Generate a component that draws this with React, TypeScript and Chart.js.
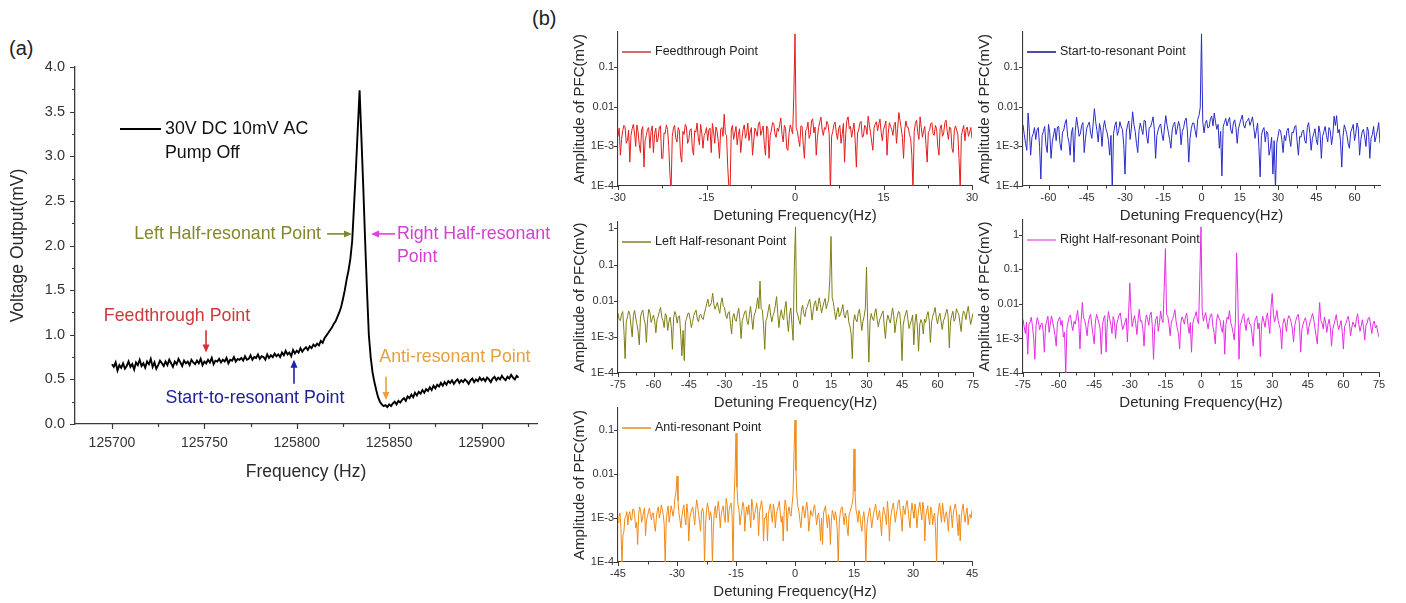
import React, { useEffect, useRef } from 'react';
import { Chart, registerables } from 'chart.js';
Chart.register(...registerables);

const FONT = 'Arial, "Liberation Sans", Helvetica, sans-serif';

// ---------------- Panel (a) data ----------------
const FREQ_START = 125700;
const FREQ_STEP = 1;
// Voltage output (mV), one value per Hz from 125700 to 125920
const VOLTAGE = [
  0.67, 0.64, 0.69, 0.60, 0.66, 0.63, 0.68, 0.62, 0.65, 0.70,
  0.64, 0.67, 0.61, 0.69, 0.66, 0.72, 0.65, 0.68, 0.63, 0.70,
  0.67, 0.73, 0.64, 0.69, 0.62, 0.66, 0.71, 0.68, 0.65, 0.70,
  0.66, 0.72, 0.68, 0.64, 0.70, 0.67, 0.73, 0.69, 0.65, 0.71,
  0.68, 0.70, 0.66, 0.72, 0.69, 0.67, 0.71, 0.68, 0.73, 0.66,
  0.70, 0.68, 0.72, 0.69, 0.74, 0.67, 0.71, 0.70, 0.73, 0.69,
  0.72, 0.70, 0.74, 0.68, 0.72, 0.71, 0.75, 0.70, 0.73, 0.72,
  0.74, 0.71, 0.76, 0.72, 0.73, 0.77, 0.72, 0.75, 0.74, 0.78,
  0.73, 0.76, 0.75, 0.72, 0.78, 0.74, 0.77, 0.75, 0.79, 0.76,
  0.78, 0.75, 0.80, 0.77, 0.82, 0.78, 0.80, 0.76, 0.83, 0.79,
  0.82, 0.80, 0.85, 0.81, 0.84, 0.86, 0.83, 0.87, 0.85, 0.89,
  0.87, 0.90, 0.88, 0.93, 0.91, 0.96, 0.99, 1.02, 1.05, 1.08,
  1.12, 1.15, 1.20, 1.25, 1.31, 1.40, 1.50, 1.62, 1.72, 1.85,
  2.05, 2.45, 2.85, 3.30, 3.74, 3.20, 2.65, 2.05, 1.50, 1.00,
  0.75, 0.58, 0.47, 0.38, 0.30, 0.25, 0.22, 0.20, 0.21, 0.19,
  0.22, 0.20, 0.23, 0.25, 0.22, 0.26, 0.24, 0.27, 0.29, 0.26,
  0.31, 0.29, 0.33, 0.30, 0.35, 0.32, 0.36, 0.34, 0.38, 0.35,
  0.39, 0.37, 0.41, 0.38, 0.43, 0.40, 0.44, 0.42, 0.46, 0.43,
  0.47, 0.44, 0.48, 0.46, 0.49, 0.45, 0.48, 0.50, 0.46, 0.49,
  0.47, 0.50, 0.48, 0.45, 0.49, 0.51, 0.47, 0.50, 0.48, 0.52,
  0.49, 0.51, 0.48, 0.52, 0.50, 0.47, 0.51, 0.53, 0.49, 0.52,
  0.50, 0.54, 0.51, 0.49, 0.53, 0.51, 0.55, 0.52, 0.50, 0.54,
  0.52,
];
const A_X_MIN = 125680;
const A_X_MAX = 125930;
const A_X_TICKS = [125700, 125750, 125800, 125850, 125900];
const A_X_MINOR = [125725, 125775, 125825, 125875, 125925];
const A_Y_TICKS = [0, 0.5, 1.0, 1.5, 2.0, 2.5, 3.0, 3.5, 4.0];
const A_Y_MINOR = [0.25, 0.75, 1.25, 1.75, 2.25, 2.75, 3.25, 3.75];

// annotation labels (data coordinates: Hz, mV)
const A_LABELS = [
  { text: 'Left Half-resonant Point', f: 125813.1, v: 2.13, color: '#86862c', align: 'right' },
  { text: 'Right Half-resonant', f: 125854.2, v: 2.13, color: '#d43ed4', align: 'left' },
  { text: 'Point', f: 125854.2, v: 1.87, color: '#d43ed4', align: 'left' },
  { text: 'Feedthrough Point', f: 125735.2, v: 1.21, color: '#cc3a3a', align: 'center' },
  { text: 'Start-to-resonant Point', f: 125777.4, v: 0.29, color: '#20209a', align: 'center' },
  { text: 'Anti-resonant Point', f: 125885.6, v: 0.75, color: '#e6a040', align: 'center' },
];
const A_ARROWS = [
  { f1: 125816.4, v1: 2.13, f2: 125829.9, v2: 2.13, color: '#7d8a2a' },
  { f1: 125853.2, v1: 2.13, f2: 125840.2, v2: 2.13, color: '#e040e0' },
  { f1: 125750.9, v1: 1.05, f2: 125750.9, v2: 0.8, color: '#d43030' },
  { f1: 125798.5, v1: 0.45, f2: 125798.5, v2: 0.72, color: '#2020b0' },
  { f1: 125848.3, v1: 0.53, f2: 125848.3, v2: 0.27, color: '#e8a040' },
];

// ---------------- Panel (b) data (amplitudes in µV; axis in mV) ----------------
const FEED_START = -30;
const FEED_STEP = 0.2;
const FEED_UV = [
  1.8, 2.9, 0.6, 1.5, 2.5, 3.4, 3.1, 1.2, 1.4, 2.6,
  0.4, 1.9, 2.8, 3.6, 2.2, 1.0, 3.5, 2.4, 1.1, 0.7,
  2.6, 3.2, 0.3, 1.4, 1.9, 2.7, 3.0, 0.9, 2.4, 3.3,
  0.7, 2.0, 2.9, 1.3, 1.6, 3.1, 3.3, 0.5, 0.5, 2.2,
  2.1, 3.5, 2.7, 1.0, 0.2, 0.08, 1.8, 2.9, 3.4, 1.6,
  1.3, 3.0, 2.5, 0.6, 0.4, 2.4, 2.0, 3.6, 3.1, 1.2,
  1.5, 2.6, 2.8, 0.9, 0.6, 2.5, 2.3, 3.9, 1.7, 1.1,
  3.6, 2.2, 0.9, 1.9, 2.2, 3.0, 1.4, 2.6, 2.9, 0.7,
  3.8, 2.3, 1.2, 3.1, 2.4, 1.3, 0.5, 2.7, 3.0, 1.8,
  6.5, 2.1, 1.9, 0.3, 0.09, 0.08, 2.6, 3.4, 1.5, 2.2,
  3.2, 1.1, 2.0, 2.8, 0.7, 1.5, 2.7, 3.5, 1.6, 2.1,
  3.9, 1.4, 2.3, 3.0, 0.6, 1.3, 2.9, 2.4, 1.8, 3.7,
  4.2, 1.9, 2.5, 3.3, 1.1, 0.6, 3.3, 2.8, 0.5, 1.9,
  2.6, 4.0, 3.8, 2.1, 1.7, 2.9, 2.4, 3.6, 5.2, 2.0,
  1.3, 3.4, 2.9, 0.9, 0.8, 2.2, 3.5, 2.7, 2.1, 20,
  700, 3.0, 2.4, 1.5, 1.0, 3.3, 3.2, 1.1, 0.5, 2.5,
  2.8, 4.1, 1.6, 2.0, 4.4, 5.0, 2.2, 3.1, 0.6, 1.7,
  3.0, 4.2, 5.5, 2.6, 1.9, 3.0, 2.7, 4.3, 3.6, 2.0,
  0.07, 1.8, 2.4, 3.6, 4.1, 2.2, 1.5, 2.8, 3.4, 1.2,
  2.0, 3.8, 0.4, 2.1, 4.6, 5.6, 2.8, 3.2, 1.7, 2.6,
  3.9, 1.4, 0.3, 2.2, 2.6, 3.9, 4.3, 1.7, 1.8, 3.4,
  3.1, 2.0, 5.8, 3.5, 2.2, 1.3, 0.8, 2.9, 3.7, 4.2,
  2.5, 3.6, 4.9, 2.3, 1.4, 2.7, 3.3, 4.4, 0.6, 2.1,
  4.0, 3.2, 2.7, 1.9, 3.5, 4.1, 1.2, 2.8, 7.2, 4.5,
  2.9, 1.7, 0.5, 2.6, 4.4, 3.1, 3.0, 2.0, 1.6, 0.6,
  0.08, 2.4, 3.8, 4.6, 2.3, 1.5, 5.6, 3.0, 1.7, 2.5,
  3.2, 1.1, 0.4, 2.3, 2.5, 3.7, 4.0, 2.1, 1.9, 3.4,
  2.8, 1.0, 0.6, 2.9, 3.5, 1.8, 2.2, 4.0, 4.6, 2.4,
  1.5, 3.1, 2.9, 0.9, 0.7, 2.5, 3.3, 2.6, 2.0, 0.5,
  0.08, 1.9, 2.6, 3.4, 1.4, 2.7, 3.1, 1.8, 2.3, 3.0,
  1.6,
];

const START_START = -70;
const START_STEP = 0.5;
const START_UV = [
  3.5, 2.0, 1.2, 0.8, 7.0, 2.4, 0.6, 1.7, 2.1, 3.0,
  1.5, 2.6, 3.0, 1.0, 0.15, 1.9, 2.4, 3.2, 1.1, 0.7,
  3.6, 2.2, 0.5, 1.3, 2.0, 2.9, 1.4, 3.1, 3.2, 1.2,
  0.8, 2.3, 2.6, 3.9, 4.8, 1.8, 1.3, 0.6, 2.2, 3.0,
  0.4, 2.4, 5.5, 3.3, 1.8, 2.1, 3.4, 4.0, 0.7, 1.6,
  2.9, 3.5, 4.1, 2.2, 1.6, 3.7, 9.0, 4.2, 2.5, 1.3,
  3.8, 2.6, 1.0, 3.0, 4.5, 2.8, 2.2, 1.4, 0.6, 1.9,
  0.08, 2.1, 3.3, 4.2, 1.9, 2.5, 4.2, 3.1, 2.7, 1.1,
  0.2, 2.3, 3.5, 4.4, 1.5, 2.9, 7.5, 3.6, 2.4, 1.2,
  0.7, 2.5, 3.9, 2.8, 2.0, 4.6, 4.4, 1.8, 1.2, 3.0,
  3.1, 4.0, 5.6, 2.7, 0.5, 1.9, 2.6, 3.3, 3.7, 2.0,
  1.4, 3.1, 6.0, 3.4, 2.3, 1.5, 0.9, 2.6, 3.6, 4.1,
  2.0, 2.8, 4.3, 3.2, 1.1, 2.4, 3.0, 4.5, 5.2, 2.3,
  0.4, 1.6, 2.8, 3.9, 3.9, 2.5, 1.7, 4.8, 6.0, 9.5,
  700, 4.2, 2.2, 3.8, 4.6, 2.9, 3.1, 5.0, 5.8, 3.3,
  7.0, 4.1, 2.7, 3.6, 0.9, 2.4, 0.18, 3.2, 4.0, 5.1,
  3.3, 4.4, 5.4, 2.6, 2.1, 3.9, 4.7, 3.0, 1.2, 2.8,
  3.8, 4.9, 6.2, 3.5, 2.9, 4.1, 4.5, 5.2, 3.4, 4.3,
  5.6, 3.0, 1.6, 2.5, 3.9, 1.0, 0.17, 1.9, 2.6, 3.0,
  1.3, 2.4, 2.2, 0.6, 0.9, 1.7, 0.2, 1.4, 0.08, 1.2,
  1.8, 2.7, 2.5, 1.5, 0.7, 1.9, 1.4, 2.5, 2.9, 1.6,
  1.0, 2.3, 2.2, 3.1, 3.4, 1.3, 0.6, 1.8, 1.7, 2.4,
  2.6, 1.4, 1.2, 3.0, 4.0, 2.1, 0.8, 1.6, 2.1, 2.8,
  1.5, 1.1, 3.3, 2.2, 0.5, 1.8, 2.4, 3.2, 1.9, 1.3,
  3.0, 2.5, 1.1, 1.9, 5.8, 3.4, 6.0, 2.2, 2.7, 1.4,
  0.3, 1.8, 3.5, 2.7, 2.0, 1.2, 0.9, 2.3, 2.8, 3.6,
  1.4, 2.1, 3.9, 2.9, 0.6, 1.5, 2.3, 2.7, 1.7, 1.0,
  3.1, 2.4, 0.5, 1.6, 2.0, 3.2, 1.3, 1.8, 2.6, 4.0,
  1.2,
];

const LEFT_START = -75;
const LEFT_STEP = 0.5;
const LEFT_UV = [
  4.5, 3.0, 2.8, 4.2, 5.0, 1.5, 0.25, 2.6, 3.6, 5.2,
  4.2, 2.0, 1.0, 3.9, 5.4, 3.3, 2.2, 1.4, 0.6, 3.5,
  4.8, 5.5, 3.1, 2.3, 0.7, 3.0, 5.8, 4.6, 2.5, 3.2,
  4.0, 2.7, 1.3, 3.0, 3.7, 5.1, 6.5, 3.4, 2.8, 1.8,
  4.4, 3.8, 1.5, 2.6, 3.5, 1.9, 0.45, 3.3, 5.0, 4.1,
  2.4, 3.6, 3.8, 1.2, 0.3, 1.5, 0.22, 2.6, 3.2, 4.4,
  4.6, 3.0, 1.8, 2.5, 3.9, 4.8, 5.5, 3.1, 2.6, 4.0,
  4.2, 3.3, 3.0, 4.5, 6.0, 8.5, 11.0, 6.8, 7.5, 9.0,
  16.0, 8.0, 5.8, 7.2, 9.0, 6.0, 4.5, 8.8, 12.0, 7.0,
  6.5, 4.0, 3.2, 4.6, 5.0, 2.4, 1.2, 3.5, 4.4, 2.9,
  2.7, 4.5, 6.2, 3.0, 0.9, 2.8, 3.6, 4.9, 5.3, 2.7,
  2.2, 4.1, 7.0, 3.2, 1.6, 3.8, 4.8, 6.6, 12.0, 6.0,
  35, 6.0, 5.5, 2.0, 0.45, 2.8, 3.4, 5.5, 8.0, 4.0,
  2.6, 3.9, 4.9, 7.5, 13.0, 4.4, 1.8, 3.8, 5.6, 3.5,
  3.0, 6.2, 9.5, 3.0, 1.4, 4.0, 6.3, 2.2, 0.8, 90,
  1100, 5.0, 4.0, 2.8, 2.2, 5.5, 7.5, 4.4, 3.6, 5.8,
  6.8, 9.0, 11.0, 6.0, 2.9, 5.5, 8.5, 10.0, 5.2, 7.0,
  12.0, 8.0, 4.6, 6.5, 9.0, 11.5, 6.0, 8.2, 10.5, 40,
  600, 12.0, 9.0, 5.0, 3.0, 4.8, 6.5, 3.6, 4.2, 5.6,
  7.8, 4.0, 3.3, 4.9, 5.5, 2.6, 2.0, 1.2, 0.25, 2.5,
  4.1, 3.0, 2.6, 4.5, 5.8, 3.2, 1.5, 2.7, 3.7, 6.0,
  85, 2.5, 0.2, 2.8, 4.4, 3.3, 2.8, 4.6, 6.0, 3.0,
  1.9, 2.9, 3.5, 4.4, 5.2, 2.0, 0.9, 2.6, 4.0, 3.1,
  2.4, 3.7, 6.3, 4.0, 1.3, 2.4, 3.6, 5.0, 4.8, 2.0,
  0.22, 2.1, 3.2, 4.4, 5.5, 3.0, 1.7, 2.3, 2.9, 4.0,
  0.6, 2.5, 4.3, 1.9, 0.4, 2.2, 3.0, 2.4, 1.2, 3.1,
  2.5, 3.8, 5.0, 2.9, 0.7, 2.6, 3.8, 4.7, 6.5, 3.4,
  2.3, 3.5, 4.5, 2.7, 1.6, 2.8, 3.3, 4.6, 5.8, 3.7,
  0.5, 2.6, 3.9, 5.1, 2.7, 3.2, 6.0, 4.8, 4.2, 2.4,
  1.4, 3.6, 5.2, 4.4, 3.0, 4.9, 7.0, 3.8, 2.2, 3.1,
  4.5,
];

const RIGHT_START = -75;
const RIGHT_STEP = 0.5;
const RIGHT_UV = [
  3.5, 2.2, 1.4, 3.0, 0.35, 2.6, 3.0, 4.1, 2.2, 1.0,
  0.25, 2.4, 4.0, 3.1, 1.8, 2.5, 2.8, 1.6, 0.4, 2.3,
  3.2, 4.4, 1.5, 2.6, 4.5, 3.0, 2.0, 1.2, 0.6, 2.8,
  3.6, 4.2, 2.4, 3.3, 1.1, 1.5, 0.1, 2.0, 3.0, 4.3,
  4.8, 2.5, 1.7, 3.1, 2.6, 4.0, 6.5, 2.9, 0.5, 3.4,
  11.0, 4.0, 3.4, 2.2, 1.2, 2.8, 4.2, 5.0, 2.3, 1.3,
  0.7, 3.0, 5.0, 3.7, 2.8, 1.9, 0.35, 2.4, 3.9, 4.6,
  0.4, 2.7, 6.0, 3.8, 2.5, 1.4, 4.3, 3.2, 1.0, 2.6,
  3.6, 4.8, 5.5, 2.9, 1.8, 2.3, 3.0, 3.9, 0.8, 5.5,
  40, 6.0, 2.2, 3.3, 4.6, 2.7, 1.3, 3.5, 7.0, 3.1,
  3.3, 1.9, 0.6, 2.8, 4.8, 3.6, 2.4, 4.9, 5.8, 2.2,
  0.25, 2.1, 3.7, 4.4, 1.6, 2.9, 6.2, 3.5, 2.9, 30,
  400, 5.0, 4.4, 2.6, 1.2, 3.0, 3.5, 4.7, 6.8, 3.1,
  2.0, 1.4, 0.5, 2.8, 4.2, 3.5, 2.6, 4.4, 5.4, 2.5,
  1.4, 2.9, 0.4, 2.6, 3.8, 4.5, 6.0, 3.2, 2.7, 60,
  1700, 6.5, 3.2, 4.4, 5.6, 2.9, 1.9, 3.3, 4.7, 5.2,
  2.3, 1.5, 0.7, 3.1, 5.0, 3.9, 3.4, 2.0, 1.5, 3.3,
  0.35, 2.5, 4.1, 3.6, 6.4, 2.9, 2.2, 1.5, 0.9, 3.2,
  300, 20, 0.25, 2.4, 3.0, 4.3, 5.2, 2.7, 1.7, 3.4,
  4.0, 2.6, 2.5, 1.3, 0.6, 2.9, 3.7, 4.5, 1.9, 2.8,
  0.3, 2.4, 4.4, 3.1, 2.1, 4.0, 5.5, 2.6, 1.4, 8.0,
  20, 5.0, 3.0, 4.2, 6.5, 3.3, 2.4, 1.8, 0.5, 2.6,
  3.8, 2.8, 1.6, 3.5, 4.6, 3.9, 2.9, 1.9, 0.8, 2.4,
  3.4, 4.4, 5.0, 2.5, 0.4, 1.8, 2.6, 3.3, 4.0, 2.7,
  1.3, 2.2, 3.1, 4.0, 5.3, 3.6, 2.0, 1.2, 0.7, 2.9,
  11.0, 3.3, 2.8, 1.9, 4.2, 3.0, 1.5, 2.6, 3.6, 2.1,
  0.6, 1.8, 2.5, 3.4, 4.9, 2.7, 1.8, 2.4, 3.3, 1.6,
  0.5, 2.2, 2.7, 3.5, 4.4, 2.9, 1.2, 2.0, 3.0, 2.5,
  2.1, 3.7, 5.2, 2.6, 1.6, 2.3, 3.5, 2.1, 0.9, 2.4,
  2.8, 3.9, 4.1, 2.2, 1.4, 2.7, 3.2, 2.0, 2.4, 1.5,
  1.1,
];

const ANTI_START = -45;
const ANTI_STEP = 0.25;
const ANTI_UV = [
  0.8, 1.1, 1.3, 0.6, 0.09, 0.4, 0.5, 1.0, 1.1, 1.4,
  0.7, 1.2, 1.4, 0.9, 0.9, 1.6, 1.6, 1.1, 0.6, 0.8,
  0.25, 1.2, 1.8, 1.5, 0.8, 1.0, 1.4, 1.7, 0.4, 0.9,
  1.1, 1.4, 1.7, 1.2, 0.9, 1.3, 1.3, 0.7, 0.5, 1.0,
  1.5, 1.8, 1.0, 1.3, 2.0, 1.6, 1.2, 0.7, 0.09, 0.8,
  1.4, 1.9, 0.8, 1.2, 1.9, 1.5, 1.1, 1.6, 3.0, 4.0,
  9.0, 2.5, 1.3, 0.9, 0.6, 1.1, 1.6, 2.0, 1.0, 0.7,
  2.1, 1.3, 0.3, 1.0, 1.3, 1.6, 1.8, 1.2, 0.7, 1.5,
  2.6, 1.9, 1.2, 0.8, 0.5, 1.4, 1.7, 1.3, 0.09, 0.7,
  1.5, 2.2, 1.6, 0.9, 1.4, 1.1, 0.09, 0.6, 1.4, 1.9,
  1.0, 1.6, 2.4, 1.4, 0.6, 1.2, 1.6, 1.9, 1.1, 0.8,
  2.8, 2.0, 0.8, 1.5, 1.9, 2.2, 1.2, 0.09, 2.5, 10,
  85, 5.0, 2.0, 1.6, 0.7, 1.1, 1.5, 2.3, 1.8, 0.5,
  1.3, 1.8, 1.2, 2.0, 1.2, 0.6, 2.7, 1.9, 0.9, 1.2,
  1.6, 2.2, 1.5, 0.4, 1.4, 1.9, 2.5, 1.6, 0.3, 1.0,
  1.0, 1.3, 0.3, 1.2, 1.7, 2.1, 1.2, 0.8, 2.1, 1.5,
  0.6, 1.2, 1.5, 1.9, 2.4, 1.3, 0.8, 1.1, 0.3, 1.4,
  2.6, 1.9, 0.5, 1.4, 1.8, 1.2, 1.1, 2.0, 3.5, 30,
  170, 12, 3.0, 1.8, 1.4, 0.9, 0.6, 1.2, 1.9, 1.5,
  1.0, 1.6, 2.3, 1.4, 0.5, 0.9, 1.5, 1.2, 1.1, 1.7,
  2.0, 1.2, 0.7, 1.1, 1.3, 0.8, 0.3, 1.0, 0.25, 1.3,
  1.6, 1.9, 1.0, 0.6, 1.2, 0.9, 0.25, 0.9, 1.5, 1.2,
  0.9, 1.4, 1.1, 0.5, 0.09, 0.8, 1.3, 1.7, 1.8, 1.1,
  0.7, 1.3, 1.1, 0.6, 0.4, 1.2, 1.4, 1.7, 2.0, 3.0,
  37, 4.0, 1.6, 1.2, 0.8, 1.5, 1.2, 0.7, 0.5, 1.0,
  1.4, 0.8, 0.09, 0.6, 1.0, 1.3, 1.7, 1.1, 0.6, 0.9,
  1.3, 1.6, 2.1, 1.3, 0.9, 1.2, 1.5, 0.8, 0.4, 1.1,
  1.8, 1.4, 1.1, 0.7, 2.4, 1.3, 0.3, 0.9, 1.3, 1.8,
  2.2, 1.4, 0.8, 1.2, 1.6, 2.4, 2.6, 1.5, 1.0, 0.5,
  1.9, 1.5, 1.2, 2.0, 2.5, 1.6, 0.9, 0.6, 1.4, 2.2,
  1.4, 1.0, 2.1, 1.5, 0.6, 1.1, 1.7, 2.3, 1.4, 0.9,
  2.3, 1.6, 0.3, 1.1, 1.5, 1.9, 1.0, 0.7, 1.8, 1.5,
  0.7, 1.1, 1.3, 0.5, 0.09, 1.0, 1.6, 2.2, 1.3, 0.8,
  2.2, 1.4, 0.8, 1.2, 1.4, 0.9, 0.5, 1.3, 1.9, 1.2,
  0.6, 1.3, 1.7, 2.1, 1.5, 0.8, 0.4, 1.2, 0.3, 1.0,
  1.6, 2.1, 1.2, 0.8, 1.3, 1.7, 0.7, 1.1, 1.2, 1.0,
  1.5,
];

const LOG_TICK_VALUES = [1e-4, 1e-3, 1e-2, 1e-1, 1];
const LOG_TICK_LABELS = ['1E-4', '1E-3', '0.01', '0.1', '1'];

const SPECTRA = [
  { name: 'Feedthrough Point', start: FEED_START, step: FEED_STEP, amp: FEED_UV,
    xMin: -30, xMax: 30, xTicks: [-30, -15, 0, 15, 30], xMinor: [-22.5, -7.5, 7.5, 22.5],
    yMax: 0.78, color: '#e51c1c', legendColor: '#c64848', box: { L: 618, T: 32, R: 972, B: 186 } },
  { name: 'Start-to-resonant Point', start: START_START, step: START_STEP, amp: START_UV,
    xMin: -70, xMax: 70, xTicks: [-60, -45, -30, -15, 0, 15, 30, 45, 60], xMinor: [-67.5, -52.5, -37.5, -22.5, -7.5, 7.5, 22.5, 37.5, 52.5, 67.5],
    yMax: 0.78, color: '#2a2acc', legendColor: '#1f1f8a', box: { L: 1023, T: 32, R: 1380, B: 186 } },
  { name: 'Left Half-resonant Point', start: LEFT_START, step: LEFT_STEP, amp: LEFT_UV,
    xMin: -75, xMax: 75, xTicks: [-75, -60, -45, -30, -15, 0, 15, 30, 45, 60, 75], xMinor: [-67.5, -52.5, -37.5, -22.5, -7.5, 7.5, 22.5, 37.5, 52.5, 67.5],
    yMax: 1.5, color: '#7e7e14', legendColor: '#8a8a34', box: { L: 618, T: 222, R: 973, B: 373 } },
  { name: 'Right Half-resonant Point', start: RIGHT_START, step: RIGHT_STEP, amp: RIGHT_UV,
    xMin: -75, xMax: 75, xTicks: [-75, -60, -45, -30, -15, 0, 15, 30, 45, 60, 75], xMinor: [-67.5, -52.5, -37.5, -22.5, -7.5, 7.5, 22.5, 37.5, 52.5, 67.5],
    yMax: 2.7, color: '#e42ee4', legendColor: '#e27ae2', box: { L: 1023, T: 220, R: 1379, B: 373 } },
  { name: 'Anti-resonant Point', start: ANTI_START, step: ANTI_STEP, amp: ANTI_UV,
    xMin: -45, xMax: 45, xTicks: [-45, -30, -15, 0, 15, 30, 45], xMinor: [-37.5, -22.5, -7.5, 7.5, 22.5, 37.5],
    yMax: 0.32, color: '#f08a14', legendColor: '#e8962a', box: { L: 618, T: 408, R: 972, B: 562 } },
];

// ---------------- plugins ----------------
const manualTicks = {
  id: 'manualTicks',
  afterDraw(chart: any, _args: any, opts: any) {
    const { ctx } = chart;
    const xs = chart.scales.x;
    const ys = chart.scales.y;
    const axisY = chart.chartArea.bottom;
    const axisX = chart.chartArea.left;
    ctx.save();
    ctx.strokeStyle = opts.color || '#333';
    ctx.lineWidth = opts.width || 1;
    ctx.beginPath();
    const xt = (vals: number[], len: number) => {
      (vals || []).forEach((v) => {
        const p = Math.round(xs.getPixelForValue(v)) + 0.5;
        ctx.moveTo(p, axisY);
        ctx.lineTo(p, axisY + len);
      });
    };
    const yt = (vals: number[], len: number) => {
      (vals || []).forEach((v) => {
        const p = Math.round(ys.getPixelForValue(v)) + 0.5;
        ctx.moveTo(axisX, p);
        ctx.lineTo(axisX - len, p);
      });
    };
    xt(opts.xMajor, opts.major);
    xt(opts.xMinor, opts.minor);
    yt(opts.yMajor, opts.major);
    yt(opts.yMinor, opts.minor);
    ctx.stroke();
    ctx.restore();
  },
};

const innerLegend = {
  id: 'innerLegend',
  afterDraw(chart: any, _args: any, opts: any) {
    if (!opts || !opts.lines) return;
    const { ctx, chartArea } = chart;
    ctx.save();
    ctx.strokeStyle = opts.lineColor;
    ctx.lineWidth = opts.lineWidth || 1.5;
    ctx.beginPath();
    ctx.moveTo(chartArea.left + opts.x1, chartArea.top + opts.y);
    ctx.lineTo(chartArea.left + opts.x2, chartArea.top + opts.y);
    ctx.stroke();
    ctx.fillStyle = opts.textColor || '#222';
    ctx.font = opts.font;
    ctx.textAlign = 'left';
    ctx.textBaseline = 'middle';
    opts.lines.forEach((t: string, i: number) => {
      ctx.fillText(t, chartArea.left + opts.tx, chartArea.top + opts.y + i * (opts.lineGap || 0));
    });
    ctx.restore();
  },
};

const annotations = {
  id: 'annotations',
  afterDatasetsDraw(chart: any, _args: any, opts: any) {
    if (!opts || !opts.labels) return;
    const { ctx } = chart;
    const xs = chart.scales.x;
    const ys = chart.scales.y;
    ctx.save();
    ctx.font = opts.font;
    ctx.textBaseline = 'middle';
    opts.labels.forEach((l: any) => {
      ctx.fillStyle = l.color;
      ctx.textAlign = l.align;
      ctx.fillText(l.text, xs.getPixelForValue(l.f), ys.getPixelForValue(l.v));
    });
    opts.arrows.forEach((a: any) => {
      const x1 = xs.getPixelForValue(a.f1);
      const y1 = ys.getPixelForValue(a.v1);
      const x2 = xs.getPixelForValue(a.f2);
      const y2 = ys.getPixelForValue(a.v2);
      const ang = Math.atan2(y2 - y1, x2 - x1);
      const head = 8;
      const hw = 3.5;
      ctx.strokeStyle = a.color;
      ctx.fillStyle = a.color;
      ctx.lineWidth = 1.6;
      ctx.beginPath();
      ctx.moveTo(x1, y1);
      ctx.lineTo(x2 - Math.cos(ang) * head * 0.8, y2 - Math.sin(ang) * head * 0.8);
      ctx.stroke();
      ctx.beginPath();
      ctx.moveTo(x2, y2);
      ctx.lineTo(x2 - Math.cos(ang) * head - Math.sin(ang) * hw, y2 - Math.sin(ang) * head + Math.cos(ang) * hw);
      ctx.lineTo(x2 - Math.cos(ang) * head + Math.sin(ang) * hw, y2 - Math.sin(ang) * head - Math.cos(ang) * hw);
      ctx.closePath();
      ctx.fill();
    });
    ctx.restore();
  },
};

// ---------------- configs ----------------
const AXIS_COLOR = '#3a3a3a';
const TEXT_COLOR = '#2a2a2a';

function panelAConfig(): any {
  const points = VOLTAGE.map((v, i) => ({ x: FREQ_START + i * FREQ_STEP, y: v }));
  return {
    type: 'line',
    data: {
      datasets: [{ data: points, borderColor: '#000', borderWidth: 1.9, pointRadius: 0, tension: 0, fill: false }],
    },
    options: {
      animation: false,
      responsive: false,
      devicePixelRatio: 1,
      events: [],
      layout: { padding: { left: 0, top: 27, right: 23, bottom: 0 } },
      plugins: {
        legend: { display: false },
        tooltip: { enabled: false },
        manualTicks: { xMajor: A_X_TICKS, xMinor: A_X_MINOR, yMajor: A_Y_TICKS, yMinor: A_Y_MINOR, major: 5, minor: 3, color: AXIS_COLOR, width: 1.2 },
        innerLegend: {
          lines: ['30V DC 10mV AC', 'Pump Off'], x1: 45, x2: 86, tx: 90, y: 62, lineGap: 24,
          lineColor: '#000', lineWidth: 1.8, textColor: '#111', font: `17.8px ${FONT}`,
        },
        annotations: { labels: A_LABELS, arrows: A_ARROWS, font: `17.8px ${FONT}` },
      },
      scales: {
        x: {
          type: 'linear', min: A_X_MIN, max: A_X_MAX,
          afterBuildTicks: (s: any) => { s.ticks = A_X_TICKS.map((v) => ({ value: v })); },
          afterFit: (s: any) => { s.height = 76; },
          grid: { display: false, drawTicks: false },
          border: { display: true, color: AXIS_COLOR, width: 1.3 },
          ticks: { padding: 11, color: '#333', font: { family: FONT, size: 14 }, maxRotation: 0, autoSkip: false, callback: (v: any) => String(v) },
          title: { display: true, text: 'Frequency (Hz)', color: TEXT_COLOR, font: { family: FONT, size: 17.5 }, padding: { top: 0, bottom: 17 } },
        },
        y: {
          type: 'linear', min: 0, max: 4,
          afterBuildTicks: (s: any) => { s.ticks = A_Y_TICKS.map((v) => ({ value: v })); },
          afterFit: (s: any) => { s.width = 75; },
          grid: { display: false, drawTicks: false },
          border: { display: true, color: AXIS_COLOR, width: 1.3 },
          ticks: { padding: 10, color: '#333', font: { family: FONT, size: 14.5 }, autoSkip: false, callback: (v: any) => Number(v).toFixed(1) },
          title: { display: true, text: 'Voltage Output(mV)', color: TEXT_COLOR, font: { family: FONT, size: 17.5 }, padding: { top: 8, bottom: 0 } },
        },
      },
    },
    plugins: [manualTicks, innerLegend, annotations],
  };
}

const SP_YW = 58;
const SP_XH = 46;
const SP_PT = 30;
const SP_PR = 14;

function spectrumConfig(spec: any): any {
  const points = spec.amp.map((a: number, i: number) => ({ x: spec.start + i * spec.step, y: a / 1000 }));
  const logTicks = LOG_TICK_VALUES.filter((v) => v <= spec.yMax * 1.0001);
  return {
    type: 'line',
    data: {
      datasets: [{ data: points, borderColor: spec.color, borderWidth: 1, pointRadius: 0, tension: 0, fill: false }],
    },
    options: {
      animation: false,
      responsive: false,
      devicePixelRatio: 1,
      events: [],
      layout: { padding: { left: 0, top: SP_PT, right: SP_PR, bottom: 0 } },
      plugins: {
        legend: { display: false },
        tooltip: { enabled: false },
        manualTicks: { xMajor: spec.xTicks, xMinor: spec.xMinor, yMajor: logTicks, yMinor: [], major: 4, minor: 2.5, color: AXIS_COLOR, width: 1 },
        innerLegend: {
          lines: [spec.name], x1: 4, x2: 33, tx: 37, y: 20,
          lineColor: spec.legendColor, lineWidth: 1.6, textColor: '#222', font: `12.5px ${FONT}`,
        },
      },
      scales: {
        x: {
          type: 'linear', min: spec.xMin, max: spec.xMax,
          afterBuildTicks: (s: any) => { s.ticks = spec.xTicks.map((v: number) => ({ value: v })); },
          afterFit: (s: any) => { s.height = SP_XH; },
          grid: { display: false, drawTicks: false },
          border: { display: true, color: AXIS_COLOR, width: 1.1 },
          ticks: { padding: 5, color: '#333', font: { family: FONT, size: 11 }, maxRotation: 0, autoSkip: false, callback: (v: any) => String(v) },
          title: { display: true, text: 'Detuning Frequency(Hz)', color: TEXT_COLOR, font: { family: FONT, size: 15 }, padding: { top: 0, bottom: 7 } },
        },
        y: {
          type: 'logarithmic', min: 1e-4, max: spec.yMax,
          afterBuildTicks: (s: any) => { s.ticks = logTicks.map((v) => ({ value: v })); },
          afterFit: (s: any) => { s.width = SP_YW; },
          grid: { display: false, drawTicks: false },
          border: { display: true, color: AXIS_COLOR, width: 1.1 },
          ticks: {
            padding: 4, color: '#333', font: { family: FONT, size: 11 }, autoSkip: false,
            callback: (v: any) => {
              const idx = LOG_TICK_VALUES.findIndex((t) => Math.abs(Math.log10(t) - Math.log10(Number(v))) < 1e-6);
              return idx >= 0 ? LOG_TICK_LABELS[idx] : '';
            },
          },
          title: { display: true, text: 'Amplitude of PFC(mV)', color: TEXT_COLOR, font: { family: FONT, size: 15 }, padding: { top: 11, bottom: 0 } },
        },
      },
    },
    plugins: [manualTicks, innerLegend],
  };
}

function ChartCanvas({ left, top, width, height, makeConfig }: any) {
  const ref = useRef<HTMLCanvasElement | null>(null);
  useEffect(() => {
    const chart = new Chart(ref.current as HTMLCanvasElement, makeConfig());
    return () => chart.destroy();
  }, []);
  return (
    <canvas
      ref={ref}
      width={width}
      height={height}
      style={{ position: 'absolute', left, top, width, height }}
    />
  );
}

export default function App() {
  const labelStyle: any = { position: 'absolute', fontFamily: FONT, fontSize: 20, lineHeight: '24px', color: '#222' };
  return (
    <div style={{ position: 'absolute', left: 0, top: 0, width: 1406, height: 603, background: '#fff', overflow: 'hidden' }}>
      <div style={{ ...labelStyle, left: 9, top: 36 }}>(a)</div>
      <div style={{ ...labelStyle, left: 532, top: 6 }}>(b)</div>
      <ChartCanvas left={0} top={40} width={560} height={460} makeConfig={panelAConfig} />
      {SPECTRA.map((s, i) => {
        const { L, T, R, B } = s.box;
        return (
          <ChartCanvas
            key={i}
            left={L - SP_YW}
            top={T - SP_PT}
            width={R - L + SP_YW + SP_PR}
            height={B - T + SP_PT + SP_XH}
            makeConfig={() => spectrumConfig(s)}
          />
        );
      })}
    </div>
  );
}
